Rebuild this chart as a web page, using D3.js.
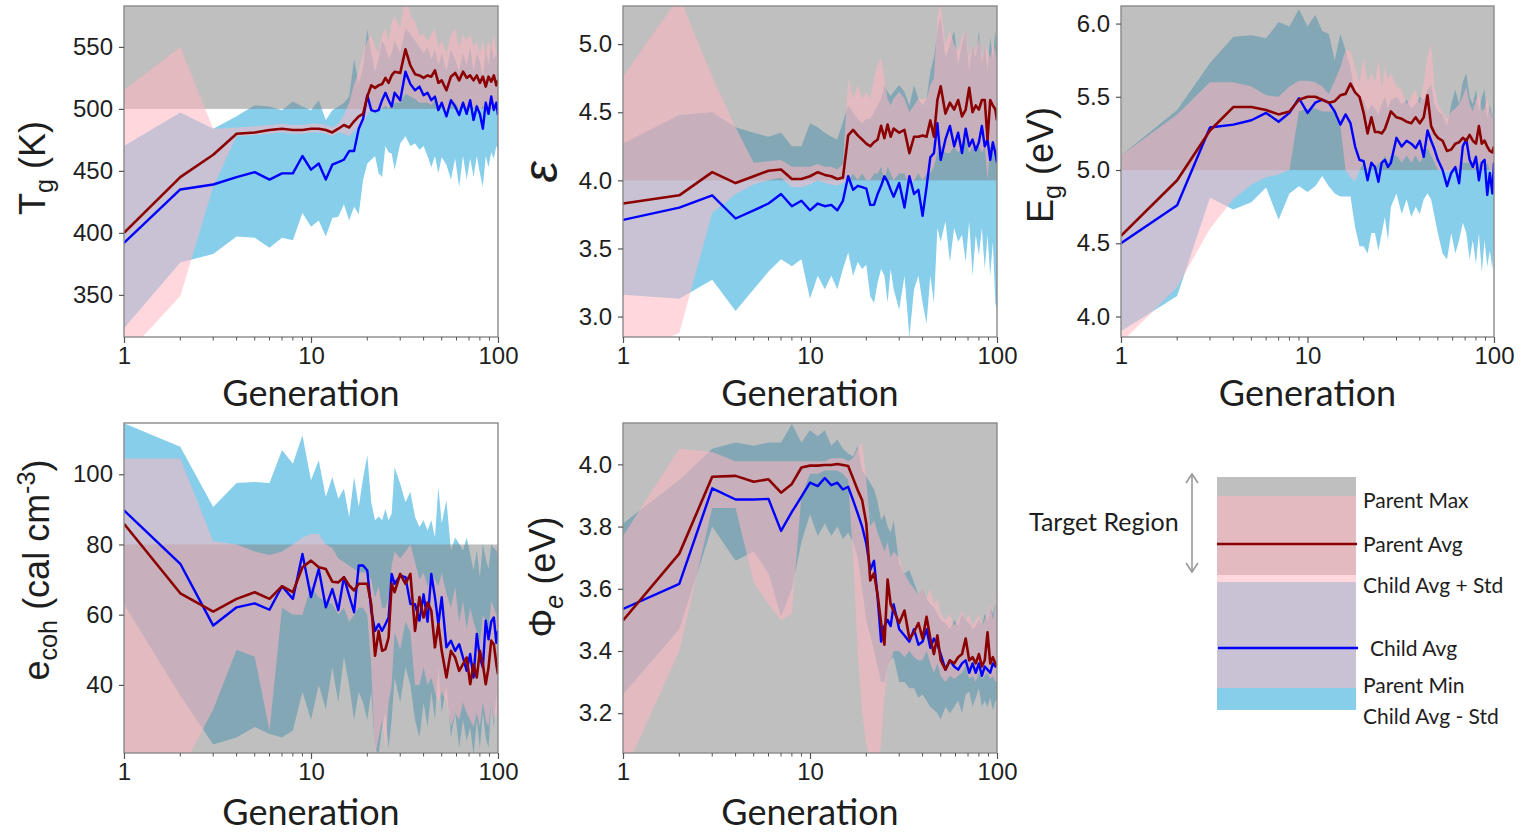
<!DOCTYPE html>
<html>
<head>
<meta charset="utf-8">
<script src="https://cdn.jsdelivr.net/npm/d3@7/dist/d3.min.js"></script>
<style>
  body { margin: 0; background: #fff; }
  svg text { font-family: "Liberation Sans", Arial, sans-serif; fill: #1e1e1e; white-space: pre; }
  svg .humanist { font-family: Lato, "Open Sans", sans-serif; }
</style>
</head>
<body>
<svg id="figure" width="1521" height="833"></svg>
<script>
const generations = [1, 2, 3, 4, 5, 6, 7, 8, 9, 10,
  11, 12, 13, 14, 15, 16, 17, 18, 19, 20,
  21, 22, 23, 24, 25, 26, 27, 28,
  30, 32, 34, 36, 38, 40, 42, 44, 46, 48, 50,
  53, 56, 59, 62, 65, 68, 71, 74, 77, 80, 83, 86, 89, 92, 95, 98, 100];
const xTicks = [1, 10, 100];

// Tg (K)
const tgParentMax = [515, 550, 484, 485, 486, 487, 488, 487, 487, 488,
  488, 487, 485, 488, 495, 505, 520, 530, 545, 555,
  560, 550, 545, 560, 565, 555, 570, 575,
  565, 595, 575, 570, 560, 560, 555, 560, 565, 550, 555,
  545, 560, 565, 550, 560, 555, 560, 550, 555, 545, 555, 545, 555, 550, 560, 545, 550];
const tgParentMin = [300, 349, 437, 478, 479, 480, 481, 480, 480, 481,
  481, 480, 478, 481, 480, 478, 482, 485, 488, 495,
  500, 498, 500, 500, 503, 500, 505, 505,
  505, 512, 510, 508, 505, 505, 505, 503, 508, 500, 502,
  495, 505, 505, 500, 505, 500, 505, 500, 505, 498, 503, 495, 503, 500, 505, 497, 500];
const tgParentAvg = [400, 445, 463, 480, 481, 483, 484, 483, 483, 484,
  484, 483, 481, 484, 487, 485, 490, 494, 496, 510,
  519, 517, 519, 520, 525, 521, 527, 530,
  529, 548, 535, 528, 527, 525, 527, 526, 531, 521, 523,
  515, 526, 529, 523, 530, 525, 527, 523, 527, 521, 526, 518, 526, 522, 527, 519, 523];
const tgChildUpper = [470, 497, 484, 494, 503, 502, 499, 506, 502, 499,
  507, 491, 499, 502, 505, 510, 540, 520, 534, 564,
  545, 530, 540, 555, 550, 540, 545, 555,
  545, 565, 560, 555, 550, 545, 550, 540, 548, 535, 545,
  530, 548, 540, 530, 545, 535, 550, 530, 545, 538, 525, 548, 535, 552, 540, 545, 530];
const tgChildLower = [323, 376, 383, 397, 396, 388, 396, 394, 416, 405,
  410, 397, 412, 413, 423, 410, 421, 415, 443, 456,
  459, 462, 448, 445, 470, 465, 464, 451,
  472, 478, 470, 472, 467, 470, 462, 453, 462, 448, 461,
  455, 443, 460, 437, 462, 443, 460, 445, 462, 448, 437, 462, 453, 465, 460, 470, 467];
const tgChildAvg = [392, 435, 439, 445, 449, 443, 448, 448, 462, 451,
  456, 443, 455, 457, 459, 466, 466, 484, 492, 511,
  499, 498, 499, 507, 513, 507, 502, 513,
  507, 530, 520, 515, 518, 511, 513, 507, 510, 499, 505,
  494, 507, 502, 495, 505, 496, 507, 491, 502, 496, 484, 505, 496, 510, 499, 505, 495];
const tgTicks = [350, 400, 450, 500, 550];
const tgTarget = [500, 1000];

// dielectric constant
const epsParentMax = [4.76, 5.35, 4.76, 4.39, 4.13, 4.14, 4.15, 4.10, 4.10, 4.10,
  4.12, 4.10, 4.10, 4.08, 4.12, 4.75, 4.60, 4.70, 4.60, 4.65,
  4.60, 4.75, 4.85, 4.90, 4.75, 4.60, 4.55, 4.60,
  4.65, 4.60, 4.50, 4.55, 4.60, 4.60, 4.60, 4.70, 4.75, 5.20, 5.30,
  5.00, 5.10, 5.00, 4.95, 5.05, 5.10, 4.90, 5.00, 4.95, 5.05, 4.90, 5.00, 4.95, 4.90, 5.00, 4.95, 4.85];
const epsParentMin = [2.70, 2.88, 3.76, 3.90, 3.97, 4.00, 4.02, 3.95, 3.95, 3.97,
  4.00, 3.98, 3.97, 3.96, 3.98, 4.00, 4.05, 4.00, 4.05, 4.00,
  4.00, 4.05, 4.05, 4.10, 4.00, 4.10, 4.05, 4.00,
  4.05, 4.05, 3.95, 4.00, 4.05, 4.00, 4.05, 4.05, 4.10, 4.20, 4.25,
  4.20, 4.20, 4.25, 4.20, 4.25, 4.30, 4.20, 4.25, 4.20, 4.25, 4.20, 4.25, 4.00, 4.25, 4.20, 4.20, 4.15];
const epsParentAvg = [3.83, 3.89, 4.06, 3.98, 4.03, 4.07, 4.08, 4.01, 4.01, 4.03,
  4.06, 4.04, 4.03, 4.01, 4.02, 4.33, 4.37, 4.33, 4.30, 4.27,
  4.25, 4.28, 4.30, 4.40, 4.31, 4.41, 4.32, 4.38,
  4.35, 4.37, 4.20, 4.32, 4.32, 4.33, 4.32, 4.44, 4.32, 4.59, 4.69,
  4.49, 4.57, 4.52, 4.59, 4.47, 4.52, 4.68, 4.50, 4.55, 4.52, 4.59, 4.59, 4.30, 4.59, 4.55, 4.52, 4.44];
const epsChildUpper = [4.27, 4.48, 4.50, 4.39, 4.35, 4.32, 4.35, 4.25, 4.25, 4.42,
  4.39, 4.35, 4.32, 4.30, 4.43, 4.55, 4.50, 4.45, 4.42, 4.45,
  4.45, 4.50, 4.55, 4.60, 4.70, 4.65, 4.62, 4.65,
  4.70, 4.65, 4.55, 4.70, 4.60, 4.55, 4.60, 4.80, 4.90, 5.10, 5.20,
  4.90, 5.00, 5.10, 4.85, 5.00, 5.10, 4.80, 5.00, 4.90, 5.10, 4.85, 5.00, 4.80, 5.05, 4.90, 5.10, 4.95];
const epsChildLower = [3.16, 3.13, 3.27, 3.04, 3.20, 3.33, 3.42, 3.37, 3.42, 3.13,
  3.30, 3.20, 3.30, 3.20, 3.35, 3.47, 3.30, 3.40, 3.35, 3.38,
  3.15, 3.10, 3.25, 3.35, 3.30, 3.10, 3.35, 3.20,
  3.05, 3.30, 2.85, 3.20, 3.30, 3.10, 2.95, 3.30, 3.10, 3.65, 3.55,
  3.70, 3.40, 3.65, 3.55, 3.60, 3.40, 3.70, 3.30, 3.60, 3.45, 3.65, 3.35, 3.60, 3.30, 3.55, 3.10, 3.05];
const epsChildAvg = [3.71, 3.80, 3.89, 3.72, 3.78, 3.83, 3.90, 3.81, 3.85, 3.78,
  3.83, 3.81, 3.82, 3.78, 3.85, 4.03, 3.93, 3.96, 3.95, 3.94,
  3.82, 3.82, 3.90, 3.96, 4.03, 3.99, 3.93, 3.88,
  3.98, 3.80, 4.03, 3.90, 3.93, 3.74, 3.95, 4.17, 4.20, 4.42, 4.15,
  4.30, 4.40, 4.25, 4.35, 4.20, 4.38, 4.25, 4.30, 4.22, 4.28, 4.40, 4.25, 4.30, 4.15, 4.28, 4.20, 4.13];
const epsTicks = [3.0, 3.5, 4.0, 4.5, 5.0];
const epsTarget = [4.0, 10];

// band gap (eV)
const egParentMax = [5.10, 5.38, 5.60, 5.60, 5.57, 5.51, 5.50, 5.57, 5.61, 5.61,
  5.60, 5.57, 5.52, 5.61, 5.70, 5.82, 5.81, 5.70, 5.60, 5.77,
  5.60, 5.66, 5.60, 5.75, 5.57, 5.70, 5.62, 5.66,
  5.57, 5.55, 5.45, 5.50, 5.55, 5.45, 5.60, 5.77, 5.86, 5.57, 5.45,
  5.40, 5.35, 5.40, 5.42, 5.45, 5.50, 5.57, 5.45, 5.40, 5.48, 5.52, 5.40, 5.42, 5.50, 5.40, 5.35, 5.42];
const egParentMin = [3.82, 4.20, 4.60, 4.80, 4.90, 4.95, 4.97, 5.00, 5.40, 5.42,
  5.42, 5.40, 5.40, 5.40, 5.30, 5.00, 4.95, 4.92, 5.00, 5.05,
  5.00, 5.05, 5.00, 5.05, 5.05, 5.10, 5.05, 5.10,
  5.10, 5.05, 5.10, 5.05, 5.10, 5.05, 5.10, 5.15, 5.10, 5.05, 5.00,
  5.00, 4.98, 5.00, 5.02, 5.00, 5.05, 5.05, 5.05, 5.00, 5.02, 5.05, 5.00, 5.02, 5.05, 5.00, 4.98, 5.00];
const egParentAvg = [4.55, 4.93, 5.27, 5.43, 5.43, 5.41, 5.38, 5.40, 5.48, 5.50,
  5.50, 5.48, 5.46, 5.47, 5.51, 5.52, 5.59, 5.53, 5.50, 5.39,
  5.25, 5.36, 5.26, 5.26, 5.25, 5.28, 5.34, 5.40,
  5.36, 5.35, 5.33, 5.32, 5.36, 5.32, 5.36, 5.51, 5.30, 5.25, 5.22,
  5.20, 5.13, 5.14, 5.18, 5.19, 5.22, 5.20, 5.24, 5.20, 5.18, 5.30, 5.18, 5.20, 5.16, 5.13, 5.12, 5.16];
const egChildUpper = [5.10, 5.41, 5.73, 5.91, 5.92, 5.90, 6.01, 5.98, 6.10, 5.98,
  6.06, 5.95, 5.93, 5.75, 5.93, 5.82, 5.70, 5.52, 5.48, 5.48,
  5.40, 5.45, 5.42, 5.38, 5.45, 5.50, 5.42, 5.48,
  5.50, 5.45, 5.48, 5.42, 5.45, 5.50, 5.48, 5.55, 5.58, 5.45, 5.40,
  5.38, 5.30, 5.45, 5.55, 5.45, 5.60, 5.66, 5.50, 5.45, 5.55, 5.40, 5.50, 5.55, 5.35, 5.45, 5.35, 5.50];
const egChildLower = [3.90, 4.14, 4.81, 4.73, 4.78, 4.88, 4.66, 4.84, 4.89, 4.85,
  4.89, 4.96, 4.89, 4.84, 4.82, 4.82, 4.82, 4.61, 4.48, 4.48,
  4.43, 4.57, 4.57, 4.45, 4.57, 4.68, 4.52, 4.75,
  4.84, 4.70, 4.80, 4.68, 4.75, 4.70, 4.80, 4.84, 4.80, 4.68, 4.57,
  4.43, 4.39, 4.57, 4.43, 4.52, 4.64, 4.57, 4.39, 4.52, 4.36, 4.57, 4.30, 4.52, 4.34, 4.45, 4.32, 4.52];
const egChildAvg = [4.50, 4.76, 5.29, 5.31, 5.34, 5.39, 5.33, 5.39, 5.49, 5.39,
  5.46, 5.48, 5.46, 5.40, 5.31, 5.38, 5.32, 5.16, 5.07, 5.06,
  4.93, 5.05, 5.02, 4.92, 5.05, 5.07, 5.02, 5.05,
  5.22, 5.16, 5.20, 5.18, 5.15, 5.20, 5.09, 5.27, 5.20, 5.14, 5.07,
  5.00, 4.89, 4.98, 5.02, 4.91, 5.16, 5.21, 5.07, 5.02, 5.09, 4.93, 5.05, 5.07, 4.83, 4.98, 4.84, 5.05];
const egTicks = [4.0, 4.5, 5.0, 5.5, 6.0];
const egTarget = [5.0, 10];

// cohesive energy density (cal cm^-3)
const ecohParentMax = [104.5, 104.5, 81, 80, 78, 77, 78, 80, 82, 83,
  83, 80, 79, 76, 75, 74, 73, 72, 72, 72,
  70, 65, 68, 62, 62, 65, 74, 78,
  76, 78, 80, 75, 70, 72, 68, 72, 70, 68, 72,
  66, 62, 68, 58, 64, 56, 62, 58, 55, 52, 60, 58, 55, 64, 62, 60, 58];
const ecohParentMin = [10, 15, 33, 50, 48, 27, 62, 60, 60, 68,
  65, 64, 63, 60, 62, 58, 60, 62, 62, 60,
  45, 20, 25, 30, 22, 35, 40, 55,
  50, 58, 55, 40, 40, 45, 40, 42, 38, 35, 38,
  35, 28, 32, 30, 35, 32, 30, 28, 32, 28, 35, 30, 28, 35, 30, 32, 30];
const ecohParentAvg = [85.9, 66.1, 60.9, 64.5, 66.4, 64.5, 68.1, 66.4, 73.5, 75.4,
  73.5, 73.0, 69.4, 69.2, 70.7, 68.3, 66.9, 68.8, 68.8, 68.8,
  63.0, 48.3, 55.4, 49.7, 50.2, 53.5, 68.8, 66.4,
  71.6, 68.8, 71.6, 55.4, 65.0, 59.2, 63.5, 61.1, 50.7, 57.3, 49.7,
  42.1, 49.7, 47.8, 44.0, 45.9, 47.8, 40.2, 45.9, 42.1, 49.7, 45.9, 40.2, 45.0, 52.6, 51.6, 45.9, 43.0];
const ecohChildUpper = [114.5, 107.8, 90.7, 97.5, 97.8, 97.5, 106.9, 103.0, 111.1, 98.3,
  104.0, 93.5, 99.2, 93.0, 95.9, 87.8, 99.2, 90.7, 99.0, 105.4,
  92.0, 86.9, 88.0, 86.9, 90.0, 86.9, 88.8, 102.0,
  97.3, 92.0, 95.0, 87.8, 85.0, 86.9, 84.0, 86.9, 82.0, 96.4, 86.0,
  92.6, 78.3, 82.0, 80.2, 78.3, 82.0, 77.3, 72.6, 78.3, 70.7, 80.2, 76.0, 73.0, 80.0, 79.0, 78.3, 76.4];
const ecohChildLower = [63, 37, 23, 25, 28, 26, 25, 27, 38, 30,
  40, 33, 45, 35, 48, 40, 30, 38, 35, 30,
  38, 22, 20, 28, 32, 22, 30, 42,
  35, 45, 40, 30, 25, 35, 28, 38, 30, 45, 32,
  40, 25, 32, 22, 30, 24, 28, 20, 30, 22, 32, 25, 22, 35, 28, 38, 30];
const ecohChildAvg = [89.7, 74.5, 56.9, 62.1, 63.2, 61.4, 68.1, 64.5, 77.3, 65.0,
  73.0, 62.1, 67.3, 61.3, 70.7, 65.4, 60.7, 74.0, 74.0, 72.6,
  61.1, 55.4, 57.3, 55.4, 57.3, 59.2, 71.6, 68.8,
  71.1, 70.7, 63.0, 63.0, 58.3, 65.8, 58.0, 71.6, 65.0, 57.3, 65.0,
  50.7, 52.6, 49.7, 51.6, 47.8, 44.0, 48.8, 42.1, 54.5, 47.8, 45.0, 58.3, 53.0, 58.0, 59.2, 52.0, 55.4];
const ecohTicks = [40, 60, 80, 100];
const ecohTarget = [0, 80];

// work function (eV)
const phiParentMax = [3.77, 4.05, 4.04, 4.01, 4.01, 4.01, 4.01, 4.01, 4.01, 4.01,
  4.01, 4.01, 4.02, 4.02, 4.02, 4.01, 4.02, 4.05, 4.07, 3.95,
  3.80, 3.82, 3.78, 3.75, 3.72, 3.75, 3.70, 3.72,
  3.70, 3.65, 3.62, 3.60, 3.58, 3.60, 3.57, 3.60, 3.55, 3.57, 3.52,
  3.50, 3.52, 3.48, 3.50, 3.53, 3.50, 3.52, 3.48, 3.50, 3.52, 3.48, 3.50, 3.52, 3.55, 3.50, 3.55, 3.60];
const phiParentMin = [3.00, 3.40, 3.86, 3.86, 3.62, 3.55, 3.50, 3.52, 3.90, 3.97,
  3.97, 3.98, 3.98, 3.98, 3.97, 3.95, 3.70, 3.40, 3.20, 3.10,
  3.05, 3.00, 3.02, 3.10, 3.25, 3.35, 3.36, 3.40,
  3.40, 3.38, 3.40, 3.38, 3.37, 3.37, 3.40, 3.36, 3.33, 3.36, 3.32,
  3.30, 3.32, 3.31, 3.32, 3.33, 3.35, 3.31, 3.32, 3.30, 3.33, 3.31, 3.32, 3.33, 3.31, 3.32, 3.30, 3.30];
const phiParentAvg = [3.498, 3.713, 3.960, 3.963, 3.944, 3.952, 3.909, 3.937, 3.990, 3.996,
  3.996, 3.998, 3.998, 4.001, 3.998, 3.995, 3.955, 3.917, 3.885, 3.810,
  3.627, 3.650, 3.580, 3.490, 3.420, 3.630, 3.550, 3.530,
  3.490, 3.530, 3.440, 3.460, 3.490, 3.440, 3.510, 3.440, 3.390, 3.450, 3.370,
  3.340, 3.370, 3.360, 3.380, 3.390, 3.440, 3.370, 3.380, 3.360, 3.390, 3.350, 3.370, 3.460, 3.360, 3.380, 3.360, 3.350];
const phiChildUpper = [3.81, 3.95, 4.05, 4.07, 4.06, 4.07, 4.07, 4.13, 4.07, 4.11,
  4.09, 4.11, 4.06, 4.08, 4.05, 4.035, 4.025, 4.06, 3.98, 3.96,
  3.94, 3.92, 3.88, 3.82, 3.84, 3.80, 3.78, 3.82,
  3.68, 3.65, 3.66, 3.62, 3.58, 3.60, 3.57, 3.55, 3.54, 3.52, 3.50,
  3.49, 3.47, 3.50, 3.48, 3.52, 3.50, 3.49, 3.47, 3.48, 3.50, 3.48, 3.52, 3.50, 3.54, 3.52, 3.55, 3.55];
const phiChildLower = [3.26, 3.47, 3.80, 3.69, 3.72, 3.65, 3.51, 3.60, 3.75, 3.84,
  3.77, 3.81, 3.77, 3.80, 3.76, 3.78, 3.75, 3.70, 3.60, 3.50,
  3.45, 3.40, 3.35, 3.30, 3.30, 3.35, 3.37, 3.38,
  3.30, 3.30, 3.28, 3.28, 3.25, 3.26, 3.24, 3.22, 3.21, 3.20, 3.18,
  3.22, 3.20, 3.22, 3.24, 3.20, 3.26, 3.27, 3.22, 3.25, 3.28, 3.22, 3.24, 3.22, 3.25, 3.21, 3.24, 3.24];
const phiChildAvg = [3.535, 3.616, 3.923, 3.887, 3.887, 3.889, 3.786, 3.847, 3.896, 3.941,
  3.930, 3.956, 3.933, 3.941, 3.919, 3.928, 3.885, 3.842, 3.800, 3.745,
  3.660, 3.690, 3.570, 3.430, 3.480, 3.500, 3.480, 3.550,
  3.470, 3.450, 3.430, 3.470, 3.420, 3.430, 3.470, 3.410, 3.440, 3.420, 3.390,
  3.340, 3.370, 3.350, 3.340, 3.360, 3.370, 3.330, 3.360, 3.330, 3.360, 3.320, 3.350, 3.340, 3.330, 3.360, 3.350, 3.360];
const phiTicks = [3.2, 3.4, 3.6, 3.8, 4.0];
const phiTarget = [0, 10];

const colors = {
  childBand: "#87ceeb",
  target: "#808080",
  parentBand: "#ffb6c1",
  parentAvg: "#8b0000",
  childAvg: "#0000ff",
  frame: "#8a8a8a",
  tick: "#555",
};

const panels = [
  {
    box: { left: 124, top: 6, right: 498, bottom: 337 },
    yDomain: [316, 583], yTicks: tgTicks, format: d3.format("d"), target: tgTarget,
    series: [tgParentMax, tgParentMin, tgParentAvg, tgChildUpper, tgChildLower, tgChildAvg],
    genY: 406,
    yLabel: { x: 45, y: 168, size: 36, parts: [{ t: "T" }, { t: "g", sub: true }, { t: " (K)" }] },
  },
  {
    box: { left: 623, top: 6, right: 997, bottom: 337 },
    yDomain: [2.85, 5.28], yTicks: epsTicks, format: d3.format(".1f"), target: epsTarget,
    series: [epsParentMax, epsParentMin, epsParentAvg, epsChildUpper, epsChildLower, epsChildAvg],
    genY: 406,
    yLabel: { x: 557, y: 172, size: 48, font: "DejaVu Sans", parts: [{ t: "ε", italic: true }] },
  },
  {
    box: { left: 1121, top: 6, right: 1494, bottom: 337 },
    yDomain: [3.86, 6.12], yTicks: egTicks, format: d3.format(".1f"), target: egTarget,
    series: [egParentMax, egParentMin, egParentAvg, egChildUpper, egChildLower, egChildAvg],
    genY: 406,
    yLabel: { x: 1053, y: 165, size: 36, parts: [{ t: "E" }, { t: "g", sub: true }, { t: " (eV)" }] },
  },
  {
    box: { left: 124, top: 423, right: 498, bottom: 753 },
    yDomain: [20.6, 114.6], yTicks: ecohTicks, format: d3.format("d"), target: ecohTarget,
    series: [ecohParentMax, ecohParentMin, ecohParentAvg, ecohChildUpper, ecohChildLower, ecohChildAvg],
    genY: 825,
    yLabel: {
      x: 49, y: 570, size: 36,
      parts: [{ t: "e" }, { t: "coh", sub: true }, { t: " (cal cm" }, { t: "-3", sup: true }, { t: ")" }],
    },
  },
  {
    box: { left: 623, top: 423, right: 997, bottom: 753 },
    yDomain: [3.072, 4.133], yTicks: phiTicks, format: d3.format(".1f"), target: phiTarget,
    series: [phiParentMax, phiParentMin, phiParentAvg, phiChildUpper, phiChildLower, phiChildAvg],
    genY: 825,
    yLabel: { x: 555, y: 577, size: 36, parts: [{ t: "Φ" }, { t: "e", sub: true, italic: true }, { t: " (eV)" }] },
  },
];

panels.forEach(p => p.series.forEach(s => {
  if (s.length != generations.length) throw new Error("series length " + s.length);
}));

const svg = d3.select("#figure");

panels.forEach((panel, i) => drawPanel(panel, i));
drawLegend();

function drawPanel(panel, index) {
  const b = panel.box;

  let x = d3.scaleLog()
    .domain([1, 100])
    .range([b.left, b.right]);

  let y = d3.scaleLinear()
    .domain(panel.yDomain)
    .range([b.bottom, b.top]);

  const [pMax, pMin, pAvg, cUp, cLow, cAvg] = panel.series;
  const rows = generations.map((g, i) => ({
    g: g, pMax: pMax[i], pMin: pMin[i], pAvg: pAvg[i],
    cUp: cUp[i], cLow: cLow[i], cAvg: cAvg[i],
  }));

  const clipId = "plot-clip-" + index;
  svg.append("clipPath")
    .attr("id", clipId)
    .append("rect")
    .attr("x", b.left)
    .attr("y", b.top)
    .attr("width", b.right - b.left)
    .attr("height", b.bottom - b.top);

  const plot = svg.append("g")
    .attr("clip-path", `url(#${clipId})`);

  // child avg +/- std
  plot.append("path")
    .datum(rows)
    .attr("fill", colors.childBand)
    .attr("d", d3.area()
      .x(d => x(d.g))
      .y0(d => y(d.cLow))
      .y1(d => y(d.cUp)));

  // target region
  plot.append("rect")
    .attr("x", b.left)
    .attr("width", b.right - b.left)
    .attr("y", y(panel.target[1]))
    .attr("height", y(panel.target[0]) - y(panel.target[1]))
    .attr("fill", colors.target)
    .attr("fill-opacity", 0.5);

  // parent min / max
  plot.append("path")
    .datum(rows)
    .attr("fill", colors.parentBand)
    .attr("fill-opacity", 0.55)
    .attr("d", d3.area()
      .x(d => x(d.g))
      .y0(d => y(d.pMin))
      .y1(d => y(d.pMax)));

  plot.append("path")
    .datum(rows)
    .attr("fill", "none")
    .attr("stroke", colors.childAvg)
    .attr("stroke-width", 2.4)
    .attr("stroke-linejoin", "round")
    .attr("d", d3.line().x(d => x(d.g)).y(d => y(d.cAvg)));

  plot.append("path")
    .datum(rows)
    .attr("fill", "none")
    .attr("stroke", colors.parentAvg)
    .attr("stroke-width", 2.6)
    .attr("stroke-linejoin", "round")
    .attr("d", d3.line().x(d => x(d.g)).y(d => y(d.pAvg)));

  svg.append("rect")
    .attr("x", b.left)
    .attr("y", b.top)
    .attr("width", b.right - b.left)
    .attr("height", b.bottom - b.top)
    .attr("fill", "none")
    .attr("stroke", colors.frame)
    .attr("stroke-width", 1.4);

  let xAxis = g => g
    .attr("transform", `translate(0,${b.bottom})`)
    .call(d3.axisBottom(x)
      .tickValues(xTicks)
      .tickFormat(d3.format("d"))
      .tickSize(6)
      .tickPadding(4))
    .call(g => g.select(".domain").remove());

  let yAxis = g => g
    .attr("transform", `translate(${b.left},0)`)
    .call(d3.axisLeft(y)
      .tickValues(panel.yTicks)
      .tickFormat(panel.format)
      .tickSize(5)
      .tickPadding(6))
    .call(g => g.select(".domain").remove());

  [svg.append("g").call(xAxis), svg.append("g").call(yAxis)].forEach(g => {
    g.attr("font-size", 24).attr("font-family", "Liberation Sans");
    g.selectAll("line").attr("stroke", colors.tick).attr("stroke-width", 1.2);
    g.selectAll("text").attr("fill", "#222");
  });

  // minor log ticks
  svg.append("g")
    .selectAll("line")
    .data(x.ticks().filter(t => !xTicks.includes(t)))
    .join("line")
    .attr("x1", d => x(d))
    .attr("x2", d => x(d))
    .attr("y1", b.bottom)
    .attr("y2", b.bottom + 3.5)
    .attr("stroke", colors.tick)
    .attr("stroke-width", 1);

  svg.append("text")
    .attr("class", "humanist")
    .attr("x", (b.left + b.right) / 2)
    .attr("y", panel.genY)
    .attr("text-anchor", "middle")
    .attr("font-size", 36)
    .text("Generation");

  drawYLabel(panel.yLabel);
}

function drawYLabel(label) {
  const text = svg.append("text")
    .attr("transform", `translate(${label.x},${label.y}) rotate(-90)`)
    .attr("text-anchor", "middle")
    .attr("font-family", label.font || null)
    .attr("font-size", label.size);

  let shift = 0;
  label.parts.forEach(part => {
    let target = 0;
    let size = label.size;
    if (part.sub) { target = label.size * 0.22; size = label.size * 0.7; }
    if (part.sup) { target = -label.size * 0.4; size = label.size * 0.7; }
    text.append("tspan")
      .attr("dy", target - shift)
      .attr("font-size", size)
      .attr("font-style", part.italic ? "italic" : null)
      .text(part.t);
    shift = target;
  });
}

function drawLegend() {
  const legend = svg.append("g");
  const left = 1217, right = 1356;

  legend.append("rect")
    .attr("x", left).attr("width", right - left)
    .attr("y", 582).attr("height", 128)
    .attr("fill", colors.childBand);

  legend.append("rect")
    .attr("x", left).attr("width", right - left)
    .attr("y", 477).attr("height", 98)
    .attr("fill", colors.target)
    .attr("fill-opacity", 0.5);

  legend.append("rect")
    .attr("x", left).attr("width", right - left)
    .attr("y", 496).attr("height", 192)
    .attr("fill", colors.parentBand)
    .attr("fill-opacity", 0.55);

  legend.append("line")
    .attr("x1", left).attr("x2", right + 1)
    .attr("y1", 544).attr("y2", 544)
    .attr("stroke", colors.parentAvg)
    .attr("stroke-width", 2.5);

  legend.append("line")
    .attr("x1", left + 1).attr("x2", right + 2)
    .attr("y1", 648).attr("y2", 648)
    .attr("stroke", colors.childAvg)
    .attr("stroke-width", 2.5);

  const entries = [
    { text: "Parent Max", x: 1363, y: 508 },
    { text: "Parent Avg", x: 1363, y: 552 },
    { text: "Child Avg + Std", x: 1363, y: 593 },
    { text: "Child Avg", x: 1370, y: 656 },
    { text: "Parent Min", x: 1363, y: 693 },
    { text: "Child Avg - Std", x: 1363, y: 724 },
  ];

  legend.selectAll("text.entry")
    .data(entries)
    .join("text")
    .attr("class", "entry humanist")
    .attr("x", d => d.x)
    .attr("y", d => d.y)
    .attr("font-size", 21)
    .text(d => d.text);

  legend.append("text")
    .attr("class", "humanist")
    .attr("x", 1029)
    .attr("y", 531)
    .attr("font-size", 25)
    .text("Target Region");

  // double headed arrow
  const arrow = legend.append("g")
    .attr("stroke", "#9a9a9a")
    .attr("stroke-width", 1.6)
    .attr("fill", "none");
  arrow.append("line")
    .attr("x1", 1192).attr("x2", 1192)
    .attr("y1", 474).attr("y2", 572);
  arrow.append("polyline").attr("points", "1186,483 1192,474 1198,483");
  arrow.append("polyline").attr("points", "1186,563 1192,572 1198,563");
}
</script>
</body>
</html>
